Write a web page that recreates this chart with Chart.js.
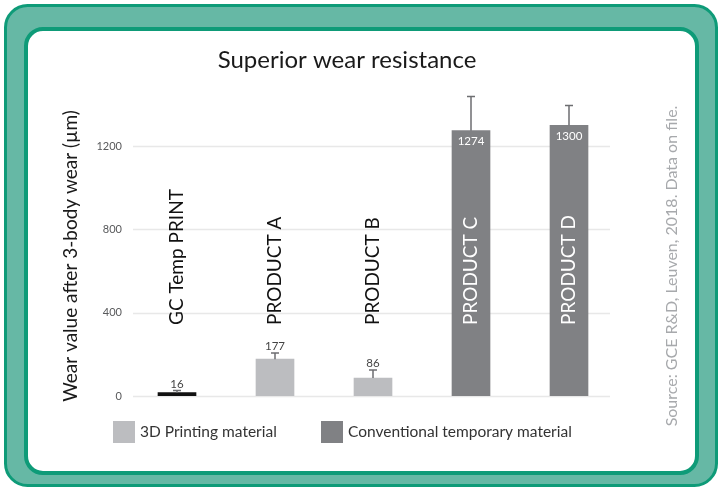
<!DOCTYPE html>
<html>
<head>
<meta charset="utf-8">
<title>Superior wear resistance</title>
<script src="https://cdn.jsdelivr.net/npm/chart.js@4"></script>
<style>
  html, body { margin: 0; padding: 0; background: #ffffff; }
  #wrap { width: 723px; height: 491px; }
</style>
</head>
<body>
<div id="wrap"><canvas id="wear-chart" width="723" height="491"></canvas></div>
<script>
// chart data
const products = ['GC Temp PRINT', 'PRODUCT A', 'PRODUCT B', 'PRODUCT C', 'PRODUCT D'];
const printingValues = [16, 177, 86, null, null];
const conventionalValues = [null, null, null, 1274, 1300];
const errorTops = [26, 206, 125, 1438, 1395];
const yTicks = [0, 400, 800, 1200];
const seriesNames = ['3D Printing material', 'Conventional temporary material'];

const FONT = 'Lato, "Open Sans", sans-serif';
const TEAL = '#0e9b78';
const LIGHT_GREY = '#bcbdc0';
const DARK_GREY = '#808184';
const legendColours = [LIGHT_GREY, DARK_GREY];

function roundRect(ctx, x, y, w, h, r) {
    ctx.beginPath();
    ctx.moveTo(x + r, y);
    ctx.arcTo(x + w, y, x + w, y + h, r);
    ctx.arcTo(x + w, y + h, x, y + h, r);
    ctx.arcTo(x, y + h, x, y, r);
    ctx.arcTo(x, y, x + w, y, r);
    ctx.closePath();
}

// frame behind the chart
const framePlugin = {
    id: 'frame',
    beforeDraw(chart) {
        const ctx = chart.ctx;
        ctx.save();
        roundRect(ctx, 5.5, 5.5, 711, 480, 22);
        ctx.fillStyle = '#66b8a5';
        ctx.fill();
        ctx.lineWidth = 3;
        ctx.strokeStyle = TEAL;
        ctx.stroke();
        roundRect(ctx, 26, 29, 671, 444, 17);
        ctx.fillStyle = '#ffffff';
        ctx.fill();
        ctx.lineWidth = 4;
        ctx.stroke();

        // gridlines, a little narrower than the category band
        const y = chart.scales.y;
        ctx.strokeStyle = '#e8e8e8';
        ctx.lineWidth = 1.5;
        yTicks.forEach(function(t) {
            const py = Math.round(y.getPixelForValue(t)) + 0.5;
            ctx.beginPath();
            ctx.moveTo(133, py);
            ctx.lineTo(610, py);
            ctx.stroke();
        });
        ctx.restore();
    }
};

// error bars, value labels, product names, titles and legend
const decorPlugin = {
    id: 'decor',
    afterDatasetsDraw(chart) {
        const ctx = chart.ctx;
        const x = chart.scales.x;
        const y = chart.scales.y;
        ctx.save();

        // error bars
        ctx.strokeStyle = '#6d6e71';
        ctx.lineWidth = 1.5;
        products.forEach(function(p, i) {
            const v = printingValues[i] != null ? printingValues[i] : conventionalValues[i];
            const px = x.getPixelForValue(i);
            const top = y.getPixelForValue(errorTops[i]);
            ctx.beginPath();
            ctx.moveTo(px, y.getPixelForValue(v));
            ctx.lineTo(px, top);
            ctx.moveTo(px - 4, top);
            ctx.lineTo(px + 4, top);
            ctx.stroke();
        });

        // value labels
        ctx.font = '11.5px ' + FONT;
        ctx.textAlign = 'center';
        products.forEach(function(p, i) {
            const px = x.getPixelForValue(i);
            if (printingValues[i] != null) {
                ctx.fillStyle = '#444444';
                ctx.textBaseline = 'bottom';
                ctx.fillText(String(printingValues[i]), px, y.getPixelForValue(errorTops[i]) - 1);
            } else {
                ctx.fillStyle = '#ffffff';
                ctx.textBaseline = 'top';
                ctx.fillText(String(conventionalValues[i]), px, y.getPixelForValue(conventionalValues[i]) + 5);
            }
        });

        // product names, vertical
        ctx.font = '19px ' + FONT;
        ctx.textAlign = 'left';
        ctx.textBaseline = 'middle';
        products.forEach(function(p, i) {
            ctx.save();
            ctx.translate(x.getPixelForValue(i), 325);
            ctx.rotate(-Math.PI / 2);
            ctx.fillStyle = conventionalValues[i] != null ? '#ffffff' : '#111111';
            ctx.fillText(p, 0, 0);
            ctx.restore();
        });

        // title
        ctx.fillStyle = '#1a1a1a';
        ctx.font = '24px ' + FONT;
        ctx.textAlign = 'center';
        ctx.textBaseline = 'middle';
        ctx.fillText('Superior wear resistance', 347, 60);

        // y axis title
        ctx.save();
        ctx.translate(71, 256);
        ctx.rotate(-Math.PI / 2);
        ctx.font = '19px ' + FONT;
        ctx.fillStyle = '#1a1a1a';
        ctx.fillText('Wear value after 3-body wear (\u00b5m)', 0, 0);
        ctx.restore();

        // source note
        ctx.save();
        ctx.translate(672, 266);
        ctx.rotate(-Math.PI / 2);
        ctx.font = '16px ' + FONT;
        ctx.fillStyle = '#a7a9ac';
        ctx.fillText('Source: GCE R&D, Leuven, 2018. Data on file.', 0, 0);
        ctx.restore();

        // legend
        const legendX = [113, 321];
        ctx.font = '15.5px ' + FONT;
        ctx.textAlign = 'left';
        chart.data.datasets.forEach(function(ds, i) {
            ctx.fillStyle = legendColours[i];
            ctx.fillRect(legendX[i], 421, 22, 22);
            ctx.fillStyle = '#333333';
            ctx.fillText(ds.label, legendX[i] + 27, 432);
        });

        ctx.restore();
    }
};

const ctx = document.getElementById('wear-chart').getContext('2d');
const chart = new Chart(ctx, {
    type: 'bar',
    data: {
        labels: products,
        datasets: [
            {
                label: seriesNames[0],
                data: printingValues,
                // GC Temp PRINT bar is black
                backgroundColor: products.map(function(p, i) { return i === 0 ? '#111111' : LIGHT_GREY; }),
                borderWidth: 0
            },
            {
                label: seriesNames[1],
                data: conventionalValues,
                backgroundColor: DARK_GREY,
                borderWidth: 0
            }
        ]
    },
    options: {
        responsive: false,
        animation: false,
        layout: { padding: { left: 20, right: 105, top: 94, bottom: 95 } },
        datasets: {
            bar: {
                barThickness: 38,
                grouped: false
            }
        },
        plugins: {
            legend: { display: false },
            tooltip: { enabled: false }
        },
        scales: {
            x: {
                display: false
            },
            y: {
                min: 0,
                max: 1450,
                afterBuildTicks: function(scale) {
                    scale.ticks = yTicks.map(function(v) { return { value: v }; });
                },
                afterFit: function(scale) {
                    scale.width = 108;
                },
                grid: { display: false, drawTicks: false },
                border: { display: false },
                ticks: {
                    padding: 6,
                    color: '#58595b',
                    font: { family: FONT, size: 11 },
                    callback: function(v) { return String(v); }
                }
            }
        }
    },
    plugins: [framePlugin, decorPlugin]
});
</script>
</body>
</html>
